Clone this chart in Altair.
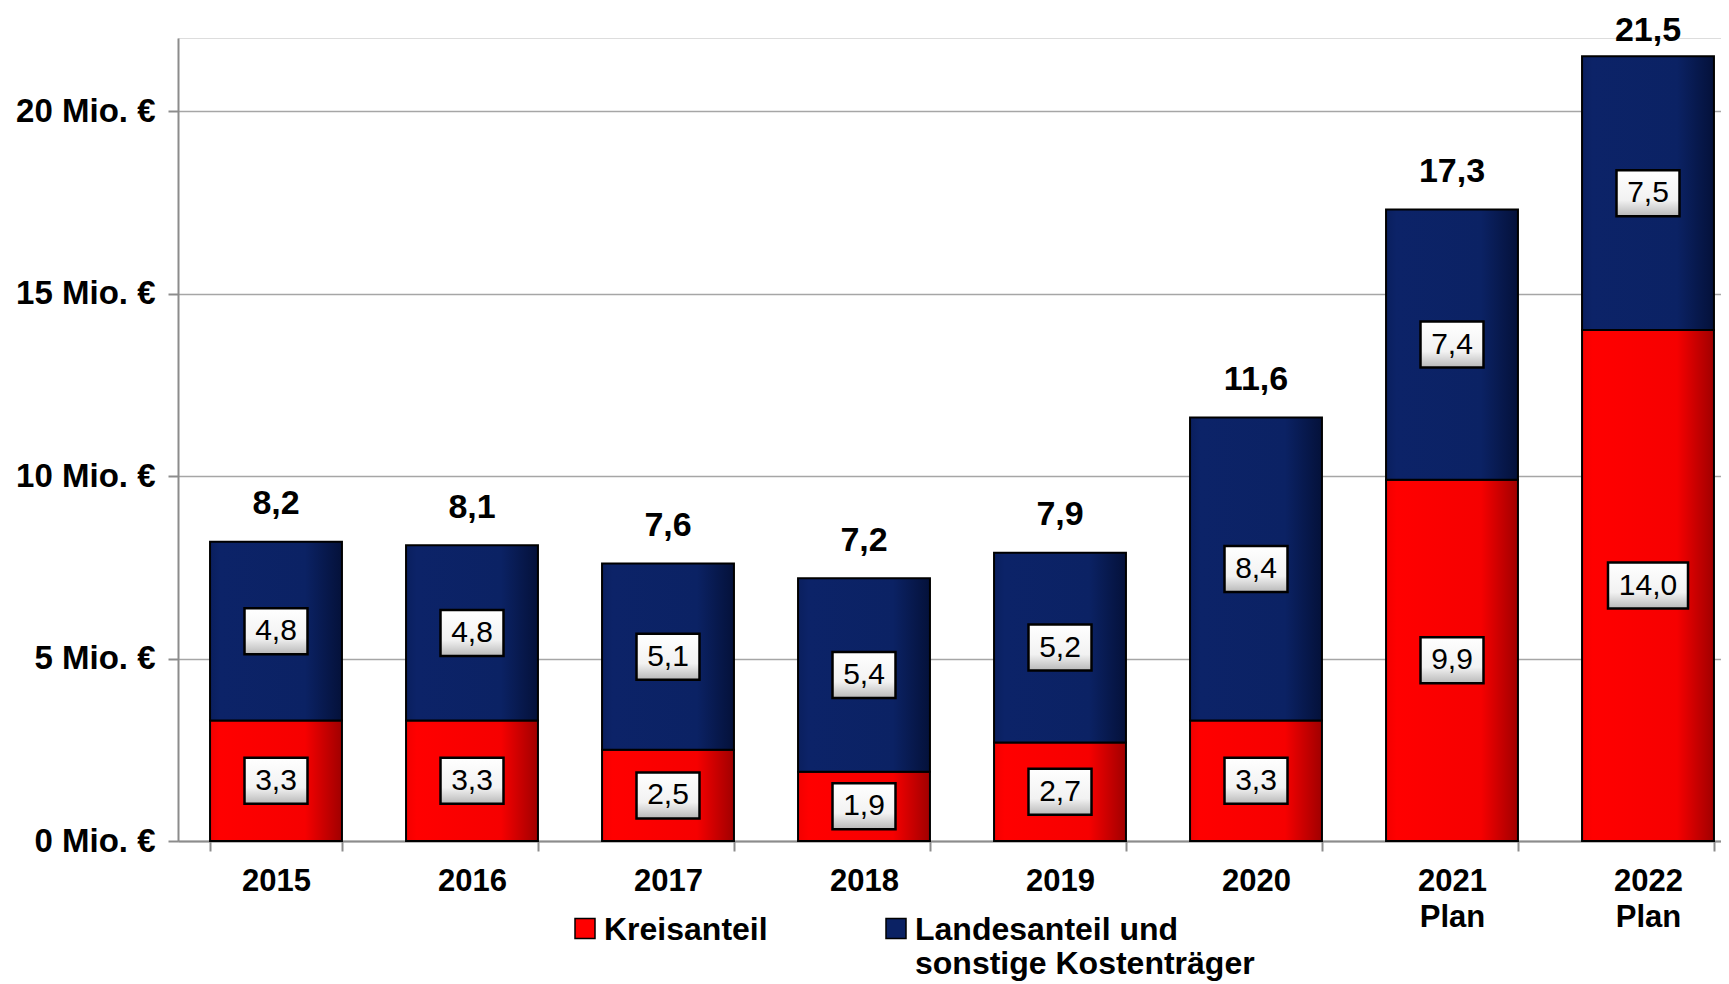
import altair as alt
import pandas as pd

years = ["2015", "2016", "2017", "2018", "2019", "2020", "2021|Plan", "2022|Plan"]
kreis = [3.3, 3.3, 2.5, 1.9, 2.7, 3.3, 9.9, 14.0]
land = [4.8, 4.8, 5.1, 5.4, 5.2, 8.4, 7.4, 7.5]
total = [8.2, 8.1, 7.6, 7.2, 7.9, 11.6, 17.3, 21.5]
series = ["Kreisanteil|", "Landesanteil und|sonstige Kostenträger"]
y_ticks = [0, 5, 10, 15, 20]

FONT = "Liberation Sans"

rows = []
for yr, k, l, t in zip(years, kreis, land, total):
    rows.append({"year": yr, "series": series[0], "lo": 0.0, "hi": k, "val": k})
    rows.append({"year": yr, "series": series[1], "lo": k, "hi": t, "val": l})
seg = pd.DataFrame(rows)
seg["mid"] = (seg["lo"] + seg["hi"]) / 2
seg["label"] = seg["val"].map(lambda v: f"{v:.1f}".replace(".", ","))
seg["len"] = seg["label"].str.len()

tot = pd.DataFrame({"year": years, "total": total})
tot["label"] = tot["total"].map(lambda v: f"{v:.1f}".replace(".", ","))

red_grad = {"gradient": "linear", "x1": 0, "x2": 1, "y1": 0, "y2": 0,
            "stops": [{"offset": 0, "color": "#F20000"}, {"offset": 0.08, "color": "#FF0000"},
                      {"offset": 0.72, "color": "#F60000"}, {"offset": 1, "color": "#A00000"}]}
blue_grad = {"gradient": "linear", "x1": 0, "x2": 1, "y1": 0, "y2": 0,
             "stops": [{"offset": 0, "color": "#0A1F5E"}, {"offset": 0.08, "color": "#0C2368"},
                       {"offset": 0.72, "color": "#0B2264"}, {"offset": 1, "color": "#04113A"}]}
box_grad = {"gradient": "linear", "x1": 0, "x2": 0, "y1": 0, "y2": 1,
            "stops": [{"offset": 0, "color": "#FFFFFF"}, {"offset": 0.65, "color": "#F2F2F2"},
                      {"offset": 1, "color": "#B8B8B8"}]}

x_enc = alt.X("year:N", sort=years,
              scale=alt.Scale(range=[0, 1568], paddingInner=0.327, paddingOuter=0.1635),
              axis=alt.Axis(title=None, labelAngle=0, labelExpr="split(datum.label, '|')",
                            labelFont=FONT, labelFontSize=31, labelFontWeight="bold",
                            labelColor="black", labelLineHeight=36, labelPadding=15,
                            tickBand="extent", tickSize=10, tickColor="#8C8C8C", tickWidth=2,
                            domainColor="#8C8C8C", domainWidth=2, grid=False))
y_scale = alt.Scale(domain=[0, 22], nice=False)
y_axis = alt.Axis(title=None, values=y_ticks, labelExpr="datum.value + ' Mio. €'",
                  labelFont=FONT, labelFontSize=33, labelFontWeight="bold", labelColor="black",
                  labelPadding=13, tickSize=10, tickColor="#8C8C8C", tickWidth=2,
                  domainColor="#8C8C8C", domainWidth=2, grid=True, gridColor="#A6A6A6",
                  gridWidth=1.5)

base = alt.Chart(seg)

bars_red = base.transform_filter(alt.datum.series == series[0]).mark_bar(
    fill=red_grad, stroke="black", strokeWidth=2).encode(
    x=x_enc, y=alt.Y("lo:Q", scale=y_scale, axis=y_axis), y2="hi:Q")
bars_blue = base.transform_filter(alt.datum.series == series[1]).mark_bar(
    fill=blue_grad, stroke="black", strokeWidth=2).encode(
    x=alt.X("year:N", sort=years), y="lo:Q", y2="hi:Q")

legend_layer = base.mark_square(size=0).encode(
    x=alt.X("year:N", sort=years), y="lo:Q",
    fill=alt.Fill("series:N", scale=alt.Scale(domain=series, range=["#FF0000", "#0B2264"]),
                  legend=alt.Legend(title=None, orient="none", direction="horizontal",
                                    legendX=391, legendY=861, padding=0,
                                    labelExpr="split(datum.label, '|')",
                                    labelFont=FONT, labelFontSize=32, labelFontWeight="bold",
                                    labelColor="black", labelBaseline="top", labelLimit=600,
                                    labelOffset=3, columnPadding=112,
                                    symbolType="M-1,0.35H1V2.35H-1Z", symbolSize=400,
                                    symbolStrokeColor="black", symbolStrokeWidth=1.5,
                                    symbolOpacity=1)))

boxes = base.mark_point(filled=True, fill=box_grad, stroke="black", strokeWidth=2.5,
                        size=10000, opacity=1).encode(
    x=alt.X("year:N", sort=years), y="mid:Q",
    shape=alt.Shape("len:N", scale=alt.Scale(domain=[3, 4],
                    range=["M-0.63,-0.46H0.63V0.46H-0.63Z", "M-0.8,-0.46H0.8V0.46H-0.8Z"]),
                    legend=None))
box_text = base.mark_text(font=FONT, fontSize=30, color="black", baseline="middle").encode(
    x=alt.X("year:N", sort=years), y="mid:Q", text="label:N")

tot_text = alt.Chart(tot).transform_calculate(
    ly="min(datum.total + 1.02, 22.2)"
).mark_text(font=FONT, fontSize=34, fontWeight="bold", color="black",
            baseline="middle").encode(
    x=alt.X("year:N", sort=years), y="ly:Q", text="label:N")

chart = alt.layer(bars_red, bars_blue, legend_layer, boxes, box_text, tot_text).properties(
    width=1543, height=803,
    autosize=alt.AutoSizeParams(type="none"),
    padding={"left": 170, "top": 30, "right": 0, "bottom": 142},
).configure_view(strokeWidth=0).configure(background="white")

chart.save("out.html", embed_options={"renderer": "svg", "actions": False})
